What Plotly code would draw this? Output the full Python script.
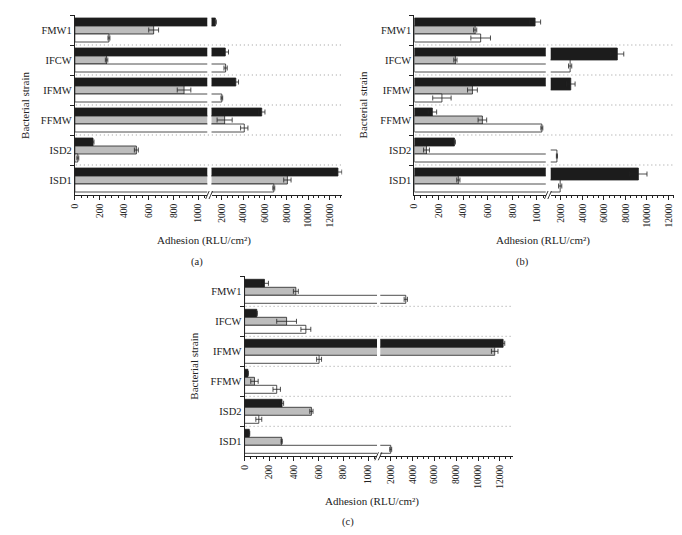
import plotly.graph_objects as go

# ---------------- data ----------------
strains = ["FMW1", "IFCW", "IFMW", "FFMW", "ISD2", "ISD1"]

left_ticks = [0, 200, 400, 600, 800, 1000]
right_ticks = [2000, 4000, 6000, 8000, 10000, 12000]

# panel (a)
a_black = [1400, 2320, 3300, 5700, 147, 12770]
a_black_err = [90, 300, 250, 300, 8, 370]
a_gray = [638, 257, 884, 2260, 498, 8080]
a_gray_err = [40, 10, 55, 700, 16, 340]
a_white = [276, 2350, 2000, 4080, 24, 6820]
a_white_err = [8, 150, 80, 340, 8, 90]

# panel (b)
b_black = [985, 7240, 2910, 147, 327, 9200]
b_black_err = [45, 600, 400, 35, 8, 800]
b_gray = [496, 335, 474, 555, 99, 359]
b_gray_err = [13, 13, 40, 35, 24, 13]
b_white = [541, 2850, 225, 1040, 1620, 1924]
b_white_err = [80, 150, 75, 8, 50, 150]

# panel (c)
c_black = [161, 99, 12300, 27, 303, 38]
c_black_err = [32, 4, 150, 4, 13, 4]
c_gray = [415, 340, 11530, 80, 541, 300]
c_gray_err = [20, 80, 300, 30, 13, 5]
c_white = [3380, 496, 603, 260, 115, 2000]
c_white_err = [150, 40, 20, 30, 24, 90]

panel_labels = ["(a)", "(b)", "(c)"]

# ---------------- style / geometry ----------------
W, H = 682, 535
FONT = "Liberation Serif"
INK = "#222222"
LEFT_MAX = 1072      # end of the left (0-1000) segment
RIGHT_MIN = 1045     # start of the right segment
RIGHT_MAX = 13170

def px(x):
    return x / W

def py(y):
    return 1 - y / H

# pixel geometry of each panel: left segment x, right segment x, y span
geo = [
    dict(l=(62.3, 195.7), r=(200.0, 331.7), y=(7.0, 187.0), title=(192, 232), lab=(185, 254), ytitle=(12, 97)),
    dict(l=(404.3, 536.7), r=(541.7, 673.0), y=(7.0, 187.0), title=(534, 232), lab=(513, 254), ytitle=(353, 97)),
    dict(l=(233.3, 366.7), r=(370.0, 503.3), y=(268.3, 448.3), title=(362, 493), lab=(337, 514), ytitle=(182, 358)),
]

panels = [
    [(a_black, a_black_err), (a_gray, a_gray_err), (a_white, a_white_err)],
    [(b_black, b_black_err), (b_gray, b_gray_err), (b_white, b_white_err)],
    [(c_black, c_black_err), (c_gray, c_gray_err), (c_white, c_white_err)],
]
fills = ["#1c1c1c", "#bdbdbd", "#ffffff"]
groups = ["black", "gray", "white"]

fig = go.Figure()
layout = {}
shapes = []
annotations = []


def add_bars(cats, vals, errs, fill, grp, xn, yn):
    if not cats:
        return
    kw = dict(
        y=cats, x=vals, orientation="h", offsetgroup=grp,
        marker=dict(color=fill, line=dict(color=INK, width=0.8)),
        xaxis=xn, yaxis=yn, showlegend=False, hoverinfo="skip",
    )
    if errs is not None:
        kw["error_x"] = dict(type="data", array=errs, color=INK, thickness=0.8, width=2.5)
    fig.add_trace(go.Bar(**kw))


for p, series in enumerate(panels):
    g = geo[p]
    for s in range(2):
        k = 2 * p + s + 1
        xn = "x" if k == 1 else f"x{k}"
        yn = "y" if k == 1 else f"y{k}"
        for (vals, errs), fill, grp in zip(series, fills, groups):
            inside = [(c, v, e) for c, v, e in zip(strains, vals, errs) if v <= LEFT_MAX]
            beyond = [(c, v, e) for c, v, e in zip(strains, vals, errs) if v > LEFT_MAX]
            if s == 0:
                # bars ending in the left segment carry their error bars here
                add_bars([c for c, _, _ in inside], [v for _, v, _ in inside],
                         [e for _, _, e in inside], fill, grp, xn, yn)
                # long bars run through the left segment without error bars
                add_bars([c for c, _, _ in beyond], [v for _, v, _ in beyond],
                         None, fill, grp, xn, yn)
            else:
                add_bars([c for c, _, _ in beyond], [v for _, v, _ in beyond],
                         [e for _, _, e in beyond], fill, grp, xn, yn)
        seg = g["l"] if s == 0 else g["r"]
        ticks = left_ticks if s == 0 else right_ticks
        xa = dict(
            domain=[px(seg[0]), px(seg[1])], anchor=yn,
            range=[0, LEFT_MAX] if s == 0 else [RIGHT_MIN, RIGHT_MAX],
            tickmode="array", tickvals=ticks, ticktext=[str(t) for t in ticks],
            tickangle=-90, ticks="outside", ticklen=4, tickwidth=0.8, tickcolor=INK,
            minor=dict(dtick=50 if s == 0 else 500, tick0=0, ticks="outside", ticklen=2.2,
                       tickwidth=0.7, tickcolor=INK, showgrid=False),
            showline=True, linecolor=INK, linewidth=0.9, showgrid=False, zeroline=False,
            tickfont=dict(family=FONT, size=9.5, color=INK),
            fixedrange=True,
        )
        ya = dict(
            domain=[py(g["y"][1]), py(g["y"][0])], anchor=xn,
            type="category", categoryorder="array", categoryarray=strains,
            range=[5.5, -0.5], showgrid=False, zeroline=False, fixedrange=True,
        )
        if s == 0:
            ya.update(showline=True, linecolor=INK, linewidth=0.9, ticks="outside",
                      tickson="boundaries", ticklen=4, tickwidth=0.8, tickcolor=INK,
                      tickfont=dict(family=FONT, size=10.5, color=INK))
        else:
            ya.update(showline=False, ticks="", showticklabels=False)
        layout["xaxis" if k == 1 else f"xaxis{k}"] = xa
        layout["yaxis" if k == 1 else f"yaxis{k}"] = ya

    # dotted separators between strain groups
    yl = "y" if p == 0 else f"y{2*p+1}"
    for i in range(len(strains) - 1):
        shapes.append(dict(type="line", xref="paper", yref=yl,
                           x0=px(g["l"][0] + 1), x1=px(g["r"][1]), y0=i + 0.5, y1=i + 0.5,
                           line=dict(color="#9a9a9a", width=1, dash="1px,3px"), layer="below"))
    # axis break marks
    gx = (g["l"][1] + g["r"][0]) / 2
    yb = g["y"][1]
    for dx in (-2.0, 1.4):
        shapes.append(dict(type="line", xref="paper", yref="paper",
                           x0=px(gx + dx - 1.8), y0=py(yb + 4), x1=px(gx + dx + 1.8), y1=py(yb - 4),
                           line=dict(color=INK, width=0.9)))
    # titles
    annotations.append(dict(text="Adhesion (RLU/cm²)", xref="paper", yref="paper",
                            x=px(g["title"][0]), y=py(g["title"][1]), showarrow=False,
                            xanchor="center", yanchor="middle",
                            font=dict(family=FONT, size=11, color=INK)))
    annotations.append(dict(text=panel_labels[p], xref="paper", yref="paper",
                            x=px(g["lab"][0]), y=py(g["lab"][1]), showarrow=False,
                            xanchor="center", yanchor="middle",
                            font=dict(family=FONT, size=10.5, color=INK)))
    annotations.append(dict(text="Bacterial strain", xref="paper", yref="paper",
                            x=px(g["ytitle"][0]), y=py(g["ytitle"][1]), showarrow=False,
                            textangle=-90, xanchor="center", yanchor="middle",
                            font=dict(family=FONT, size=11, color=INK)))

fig.update_layout(
    width=W, height=H, margin=dict(l=0, r=0, t=0, b=0),
    paper_bgcolor="white", plot_bgcolor="white",
    barmode="group", bargap=0.2, bargroupgap=0.0,
    shapes=shapes, annotations=annotations, showlegend=False,
    **layout,
)

fig.write_html("out.html")
